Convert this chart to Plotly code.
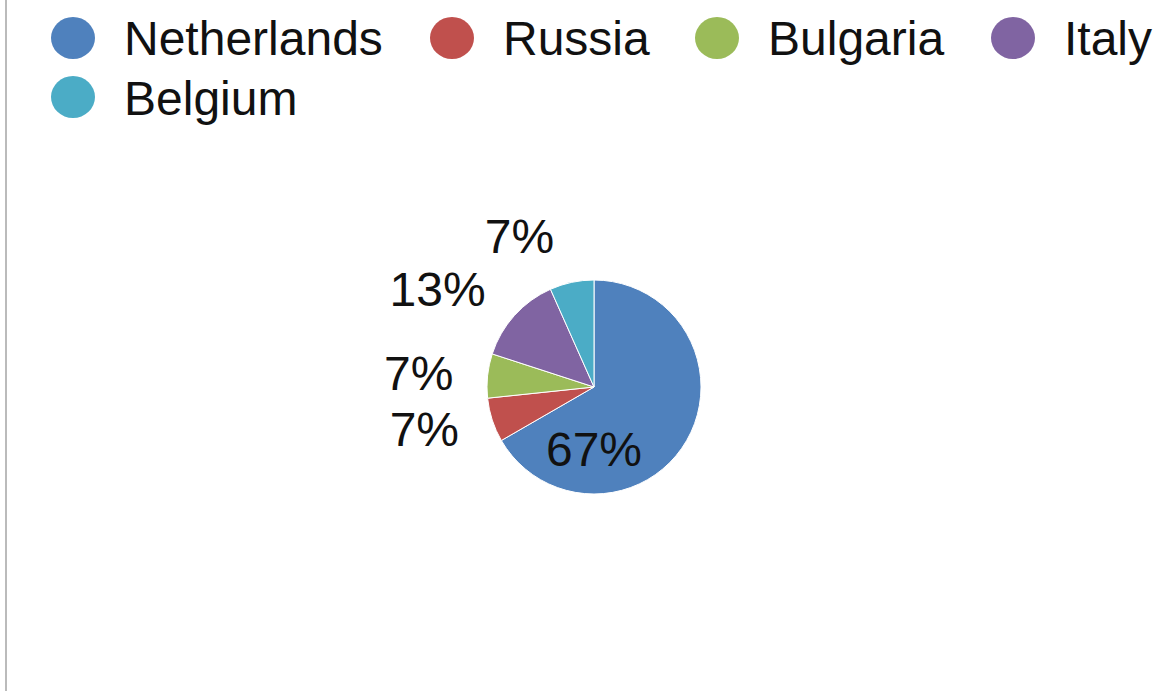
import plotly.graph_objects as go

countries = ["Netherlands", "Russia", "Bulgaria", "Italy", "Belgium"]
counts = [10, 1, 1, 2, 1]
colors = ["#4F81BD", "#C0504D", "#9BBB59", "#8064A2", "#4BACC6"]
inside_label = [True, False, False, False, False]

W, H = 1162, 691
FONT = "Liberation Sans, Arial, Helvetica, sans-serif"
CX, CY, R = 594, 387, 107      # pie centre / radius in pixels
R_LABEL = 128                  # radius of the (invisible) ring carrying outside labels


def dom(r):
    return dict(x=[(CX - r) / W, (CX + r) / W], y=[1 - (CY + r) / H, 1 - (CY - r) / H])


fig = go.Figure()
# visible pie, only the inside label
fig.add_trace(go.Pie(
    labels=countries, values=counts,
    marker=dict(colors=colors, line=dict(color="white", width=1)),
    sort=False, direction="clockwise", rotation=0,
    texttemplate=["%{percent:.0%}" if f else "" for f in inside_label],
    textposition="inside",
    insidetextorientation="horizontal",
    textfont=dict(family=FONT, size=48, color="#111"),
    showlegend=False, hoverinfo="label+value+percent",
    domain=dom(R),
))
# invisible slightly larger pie carrying outside labels
fig.add_trace(go.Pie(
    labels=countries, values=counts,
    marker=dict(colors=["rgba(0,0,0,0)"] * len(countries), line=dict(width=0)),
    sort=False, direction="clockwise", rotation=0,
    texttemplate=["" if f else "%{percent:.0%}" for f in inside_label],
    textposition="outside",
    textfont=dict(family=FONT, size=48, color="#111"),
    showlegend=False, hoverinfo="skip",
    domain=dom(R_LABEL),
))

# custom legend with round markers
legend_rows = [[0, 1, 2, 3], [4]]
marker_x = {0: 73, 1: 452, 2: 717, 3: 1013, 4: 73}
row_y = [38, 97]
shapes = []
annotations = []
for r, row in enumerate(legend_rows):
    for i in row:
        cx, cy = marker_x[i], row_y[r]
        shapes.append(dict(type="circle", xref="paper", yref="paper",
                           x0=(cx - 22) / W, x1=(cx + 22) / W,
                           y0=1 - (cy + 21) / H, y1=1 - (cy - 21) / H,
                           fillcolor=colors[i], line=dict(width=0)))
        annotations.append(dict(xref="paper", yref="paper", x=(cx + 49) / W,
                                y=1 - (cy + 1) / H, xanchor="left", yanchor="middle",
                                text=countries[i], showarrow=False,
                                font=dict(family=FONT, size=48, color="#111")))

shapes.append(dict(type="line", xref="paper", yref="paper",
                   x0=6 / W, x1=6 / W, y0=0, y1=1,
                   line=dict(color="#bbbbbb", width=2)))

fig.update_layout(
    width=W, height=H,
    margin=dict(l=0, r=0, t=0, b=0),
    paper_bgcolor="white",
    plot_bgcolor="white",
    shapes=shapes,
    annotations=annotations,
    font=dict(family=FONT),
)

fig.write_html("out.html", config={"displayModeBar": False},
               post_script="document.body.style.margin='0';")
